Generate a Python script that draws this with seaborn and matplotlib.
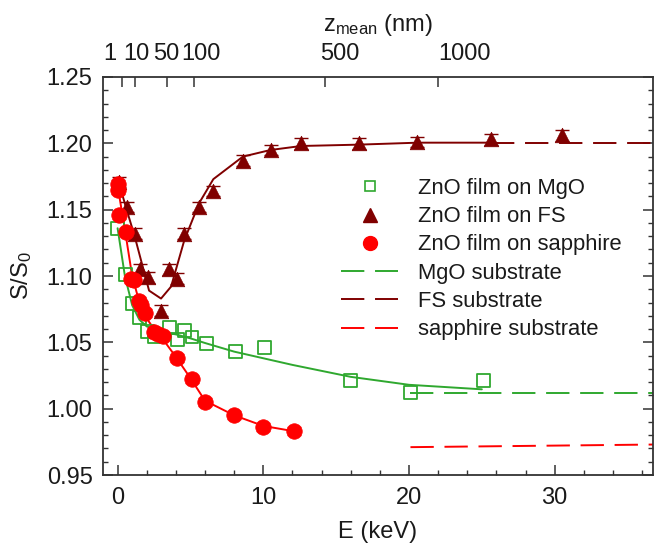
import numpy as np
import pandas as pd
import seaborn as sns
import matplotlib
matplotlib.use("Agg")
import matplotlib.pyplot as plt
from matplotlib.lines import Line2D
from matplotlib.transforms import ScaledTranslation

# ---- measured data -------------------------------------------------------
mgo_E = [0.0, 0.55, 1.0, 1.5, 2.05, 2.5, 3.55, 4.1, 4.6, 5.1, 6.1, 8.1, 10.1, 16.0, 20.1, 25.1]
mgo_S = [1.136, 1.101, 1.079, 1.069, 1.058, 1.054, 1.061, 1.052, 1.059, 1.054, 1.049,
         1.043, 1.046, 1.021, 1.012, 1.021]

fs_E = [0.07, 0.62, 1.17, 1.56, 2.11, 2.98, 3.55, 4.06, 4.58, 5.61, 6.57, 8.59, 10.54,
        12.6, 16.56, 20.58, 25.6, 30.5]
fs_S = [1.171, 1.152, 1.132, 1.105, 1.099, 1.074, 1.105, 1.098, 1.132, 1.152, 1.164,
        1.187, 1.195, 1.200, 1.200, 1.201, 1.203, 1.206]
fs_err = [0.004] * len(fs_E)

sap_E = [0.0, 0.05, 0.1, 0.55, 0.9, 1.15, 1.45, 1.6, 1.85, 2.5, 2.8, 3.1, 4.1, 5.1,
         6.0, 8.0, 10.0, 12.1]
sap_S = [1.169, 1.165, 1.146, 1.133, 1.098, 1.097, 1.081, 1.078, 1.072, 1.058, 1.056,
         1.055, 1.038, 1.022, 1.005, 0.995, 0.986, 0.983]
sap_err = [0.003] * len(sap_E)

# ---- model curves --------------------------------------------------------
mgo_fit_E = [0.0, 0.5, 1.0, 1.5, 2.0, 3.0, 4.0, 5.0, 6.0, 8.0, 10.0, 12.0, 16.0, 20.0, 25.0]
mgo_fit_S = [1.136, 1.100, 1.078, 1.067, 1.062, 1.058, 1.056, 1.053, 1.0495, 1.043,
             1.038, 1.033, 1.024, 1.018, 1.0146]

fs_fit_E = [0.07, 0.62, 1.17, 2.16, 2.98, 3.67, 4.58, 5.6, 6.57, 8.6, 10.5, 12.6, 16.5,
            20.6, 25.6]
fs_fit_S = [1.171, 1.150, 1.130, 1.089, 1.083, 1.092, 1.127, 1.155, 1.173, 1.190, 1.195,
            1.198, 1.199, 1.2005, 1.2005]

sap_fit_E = [0.0, 0.5, 1.0, 1.5, 2.0, 2.5, 3.0, 4.0, 5.0, 6.0, 8.0, 10.0, 12.1]
sap_fit_S = [1.168, 1.135, 1.100, 1.080, 1.068, 1.060, 1.054, 1.039, 1.023, 1.006,
             0.995, 0.987, 0.983]

# ---- bare substrate levels ----------------------------------------------
mgo_sub_E = [20.1, 37.0]
mgo_sub_S = [1.012, 1.012]
fs_sub_E = [25.6, 37.0]
fs_sub_S = [1.2005, 1.2005]
sap_sub_E = [20.1, 37.0]
sap_sub_S = [0.971, 0.973]

# top axis: mean depth (nm) and the beam energy it corresponds to
z_labels = ["1", "10", "50", "100", "500", "1000"]
z_at_E = [0.27, 1.19, 3.39, 5.22, 14.24, 21.98]
# horizontal nudge of each depth label (pixels) so the crowded ones stay apart
z_label_shift = [-12, 1, -1, 7, 15, 27]

# ---- styling ------------------------------------------------------------
sns.set_style("ticks")
plt.rcParams["font.family"] = ["Liberation Sans", "DejaVu Sans"]
plt.rcParams["mathtext.fontset"] = "custom"
plt.rcParams["mathtext.rm"] = "Liberation Sans"
plt.rcParams["mathtext.it"] = "Liberation Sans:italic"

GREEN = "#2fa82f"
DARKRED = "#800000"
RED = "#ff0000"
AXC = "#333333"
TXT = "#1a1a1a"
FS_TICK = 17
FS_LEG = 15.8

fig = plt.figure(figsize=(6.55, 5.43), dpi=100)
ax = fig.add_axes([0.1573, 0.1252, 0.8397, 0.7330])

# model curves
sns.lineplot(x=mgo_fit_E, y=mgo_fit_S, sort=False, estimator=None, color=GREEN, lw=1.4, ax=ax)
sns.lineplot(x=fs_fit_E, y=fs_fit_S, sort=False, estimator=None, color=DARKRED, lw=1.4, ax=ax)
sns.lineplot(x=sap_fit_E, y=sap_fit_S, sort=False, estimator=None, color=RED, lw=1.4, ax=ax)

# substrate levels
dash = (0, (12, 5.5))
ax.plot(mgo_sub_E, mgo_sub_S, color=GREEN, lw=1.4, ls=dash)
ax.plot(fs_sub_E, fs_sub_S, color=DARKRED, lw=1.4, ls=dash)
ax.plot(sap_sub_E, sap_sub_S, color=RED, lw=1.4, ls=dash)

# error bars
ax.errorbar(fs_E, fs_S, yerr=fs_err, fmt="none", ecolor=DARKRED, elinewidth=1.0,
            capsize=5, capthick=1.0, zorder=3)
ax.errorbar(sap_E, sap_S, yerr=sap_err, fmt="none", ecolor="#ff6060", elinewidth=1.0,
            capsize=5, capthick=1.0, zorder=3)

# data points
sns.scatterplot(x=mgo_E, y=mgo_S, marker="s", s=85, facecolor="none",
                edgecolor=GREEN, linewidth=1.3, ax=ax, zorder=4)
sns.scatterplot(x=fs_E, y=fs_S, marker="^", s=110, color=DARKRED, edgecolor=DARKRED,
                linewidth=0.5, ax=ax, zorder=4)
sns.scatterplot(x=sap_E, y=sap_S, marker="o", s=125, color=RED, edgecolor=RED,
                linewidth=0.5, ax=ax, zorder=5)

ax.set_xlim(-1.0, 36.75)
ax.set_ylim(0.95, 1.25)
ax.set_xticks([0, 10, 20, 30])
ax.set_xticks(np.arange(0, 37, 2), minor=True)
ax.set_yticks(np.arange(0.95, 1.2501, 0.05))
ax.set_yticks(np.arange(0.95, 1.2501, 0.01), minor=True)
ax.set_yticklabels([f"{v:.2f}" for v in np.arange(0.95, 1.2501, 0.05)])

ax.tick_params(which="both", direction="in", colors=AXC, labelcolor=TXT,
               left=True, right=True, bottom=True, top=False, labelsize=FS_TICK)
ax.tick_params(axis="x", pad=8.5)
ax.tick_params(axis="y", pad=7.5)
ax.tick_params(which="major", length=7.2, width=1.1)
ax.tick_params(which="minor", length=3.6, width=1.0)
for sp in ax.spines.values():
    sp.set_color(AXC)
    sp.set_linewidth(1.3)

ax.set_xlabel("E (keV)", fontsize=FS_TICK, color=TXT, labelpad=8.5)
ax.set_ylabel("S/S$_0$", fontsize=FS_TICK, color=TXT, labelpad=9)

# top axis
ax2 = ax.twiny()
ax2.set_xlim(ax.get_xlim())
ax2.set_xticks(z_at_E)
ax2.set_xticklabels(z_labels)
ax2.tick_params(axis="x", direction="in", length=7.2, width=1.1, colors=AXC,
                labelcolor=TXT, labelsize=FS_TICK, pad=8.5)
for lab, dx in zip(ax2.get_xticklabels(), z_label_shift):
    lab.set_transform(lab.get_transform() + ScaledTranslation(dx / 100, 0, fig.dpi_scale_trans))
ax2.set_xlabel(r"z$_{\mathrm{mean}}$ (nm)", fontsize=FS_TICK, color=TXT, labelpad=9)
for sp in ax2.spines.values():
    sp.set_visible(False)

# legend
handles = [
    Line2D([], [], ls="none", marker="s", ms=7, mfc="none", mec=GREEN, mew=1.2),
    Line2D([], [], ls="none", marker="^", ms=9.5, color=DARKRED),
    Line2D([], [], ls="none", marker="o", ms=10, color=RED),
    Line2D([], [], color=GREEN, lw=1.4, ls=dash),
    Line2D([], [], color=DARKRED, lw=1.4, ls=dash),
    Line2D([], [], color=RED, lw=1.4, ls=dash),
]
labels = ["ZnO film on MgO", "ZnO film on FS", "ZnO film on sapphire",
          "MgO substrate", "FS substrate", "sapphire substrate"]
fig.legend(handles, labels, loc="upper left", bbox_to_anchor=(341 / 655, 1 - 178 / 543),
           frameon=False, fontsize=FS_LEG, handlelength=2.6, handletextpad=0.9,
           labelspacing=0.33, borderpad=0, borderaxespad=0, labelcolor=TXT)

fig.savefig("out.png", dpi=100)
